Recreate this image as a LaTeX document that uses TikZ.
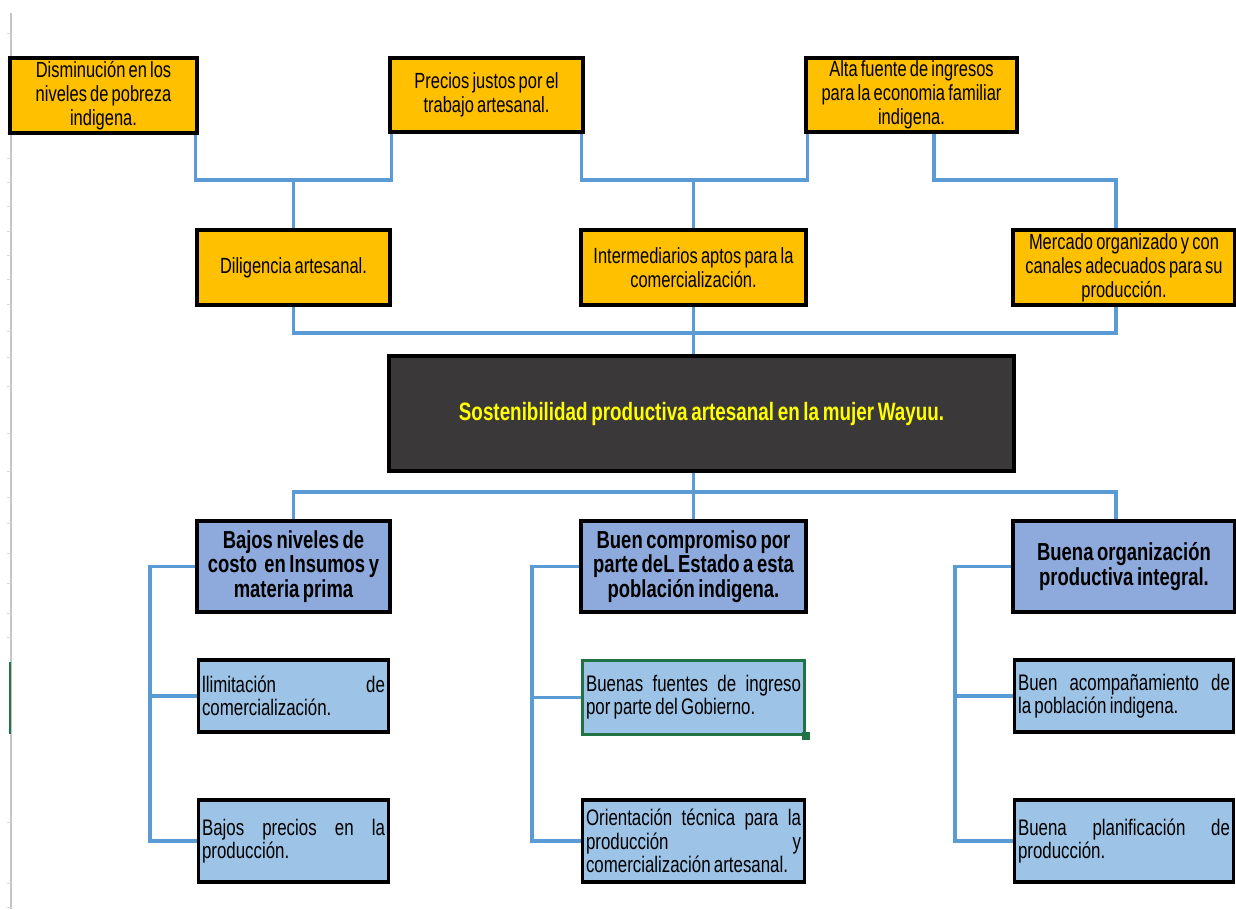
\documentclass[tikz,border=0pt]{standalone}
\usepackage{fontspec}
\setmainfont{Liberation Sans}[FakeStretch=0.75, WordSpace=0.7]
\definecolor{ambar}{HTML}{FFC000}
\definecolor{oscuro}{HTML}{3A3838}
\definecolor{amarillo}{HTML}{FFFF00}
\definecolor{azulmed}{HTML}{8EA9DB}
\definecolor{azulcla}{HTML}{9DC3E6}
\definecolor{linea}{HTML}{5B9BD5}
\definecolor{exverde}{HTML}{217346}
\tikzset{
  caja/.style={draw=black, line width=2.2pt, inner sep=1pt, align=center,
    font=\fontsize{12.5}{13.6}\selectfont},
  efecto/.style={caja, fill=ambar},
  causa/.style={caja, fill=azulmed, font=\bfseries\fontsize{14}{14}\selectfont},
  detalle/.style={caja, fill=azulcla, align=justify, inner sep=2pt,
    font=\fontsize{12.8}{13.2}\selectfont},
  link/.style={draw=linea, line width=2pt},
}

\begin{document}
\begin{tikzpicture}[x=0.02cm,y=-0.02cm]
\useasboundingbox (0,0) rectangle (1236,909);
% hoja de calculo
\draw[gray!45, line width=0.8pt] (11,13) -- (11,909);
\foreach \f in {33,60,133,158,182,206,231,255,279,304,331,357,386,433,471,497,523,553,583,613,637,822,883,907}
  \draw[gray!30, line width=0.5pt] (7,\f) -- (11,\f);
\draw[exverde, line width=1.6pt] (10,662) -- (10,734);

% efectos
\node[efecto, minimum width=3.74cm, minimum height=1.5cm] (a1) at (103.5,95.5) {Disminución en los\\niveles de pobreza\\indigena.};
\node[efecto, minimum width=3.86cm, minimum height=1.48cm] (a2) at (486.5,95) {Precios justos por el\\trabajo artesanal.};
\node[efecto, minimum width=4.22cm, minimum height=1.48cm] (a3) at (911.5,95) {Alta fuente de ingresos\\para la economia familiar\\indigena.};
\node[efecto, minimum width=3.86cm, minimum height=1.5cm] (b1) at (293.5,267.5) {Diligencia artesanal.};
\node[efecto, minimum width=4.5cm, minimum height=1.5cm] (b2) at (693.5,267.5) {Intermediarios aptos para la\\comercialización.};
\node[efecto, minimum width=4.44cm, minimum height=1.5cm] (b3) at (1124,267.5) {Mercado organizado y con\\canales adecuados para su\\producción.};

% problema central
\node[caja, fill=oscuro, text=amarillo, font=\bfseries\fontsize{14.3}{15}\selectfont,
  minimum width=12.5cm, minimum height=2.3cm] (centro) at (701.5,413.5)
  {Sostenibilidad productiva artesanal en la mujer Wayuu.};

% causas
\node[causa, minimum width=3.86cm, minimum height=1.82cm] (c1) at (293.5,566.5) {Bajos niveles de\\costo~ en Insumos y\\materia prima};
\node[causa, minimum width=4.5cm, minimum height=1.82cm] (c2) at (693.5,566.5) {Buen compromiso por\\parte deL Estado a esta\\población indigena.};
\node[causa, minimum width=4.44cm, minimum height=1.82cm] (c3) at (1124,566.5) {Buena organización\\productiva integral.};

\node[detalle, text width=3.66cm, minimum height=1.44cm] (d1) at (293.5,696) {llimitación\hfill de\\comercialización.};
\node[detalle, text width=4.3cm, minimum height=1.48cm, draw=exverde, line width=1.6pt] (d2) at (693.5,697.5) {Buenas\hfill fuentes\hfill de\hfill ingreso\\por parte del Gobierno.};
\node[fill=exverde, inner sep=0pt, minimum size=0.15cm] (asa) at (d2.south east) {};
\node[detalle, text width=4.24cm, minimum height=1.44cm] (d3) at (1124,696) {Buen\hfill acompañamiento\hfill de\\la población indigena.};
\node[detalle, text width=3.66cm, minimum height=1.64cm] (e1) at (293.5,841) {Bajos\hfill precios\hfill en\hfill la\\producción.};
\node[detalle, text width=4.3cm, minimum height=1.64cm] (e2) at (693.5,841) {Orientación\hfill técnica\hfill para\hfill la\\producción\hfill y\\comercialización artesanal.};
\node[detalle, text width=4.24cm, minimum height=1.64cm] (e3) at (1124,841) {Buena\hfill planificación\hfill de\\producción.};

% conectores
\coordinate (r1) at (0,180);
\coordinate (r2) at (0,333);
\coordinate (r3) at (0,492);
\coordinate (k1) at (150,0);
\coordinate (k2) at (532,0);
\coordinate (k3) at (955,0);
\draw[link] ([xshift=-2pt]a1.south east) |- (b1.north |- r1) -| ([xshift=2pt]a2.south west);
\draw[link] (b1.north) -- (b1.north |- r1);
\draw[link] ([xshift=-2pt]a2.south east) |- (b2.north |- r1) -| ([xshift=2pt]a3.south west);
\draw[link] (b2.north) -- (b2.north |- r1);
\draw[link] ([xshift=0.45cm]a3.south) |- ([xshift=-0.16cm]b3.north |- r1) -- ([xshift=-0.16cm]b3.north);
\draw[link] (b1.south) |- ([xshift=-0.16cm]b3.south |- r2) -- ([xshift=-0.16cm]b3.south);
\draw[link] (b2.south) -- (b2.south |- centro.north);
\draw[link] (c2.north |- centro.south) -- (c2.north);
\draw[link] (c1.north) |- ([xshift=-0.16cm]c3.north |- r3) -- ([xshift=-0.16cm]c3.north);
\draw[link] (c1.west) -| (k1 |- e1.west) -- (e1.west);
\draw[link] (d1.west) -- (k1 |- d1.west);
\draw[link] (c2.west) -| (k2 |- e2.west) -- (e2.west);
\draw[link] (d2.west) -- (k2 |- d2.west);
\draw[link] (c3.west) -| (k3 |- e3.west) -- (e3.west);
\draw[link] (d3.west) -- (k3 |- d3.west);
\end{tikzpicture}
\end{document}
